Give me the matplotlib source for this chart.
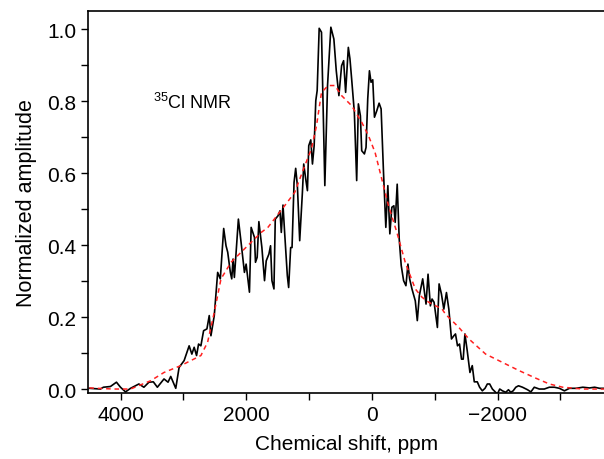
"""
35Cl NMR spectrum: measured amplitude (black) and fitted lineshape (red dashed).
Saves out.png
"""

import matplotlib
matplotlib.use('Agg')
import matplotlib.pyplot as plt
from matplotlib.ticker import MultipleLocator

plt.rcParams['font.family'] = ['Liberation Sans', 'DejaVu Sans']
plt.rcParams['mathtext.fontset'] = 'custom'
plt.rcParams['mathtext.rm'] = 'Liberation Sans'
plt.rcParams['mathtext.default'] = 'regular'

# ── Data ──────────────────────────────────────────────────────────────────────
shift_ppm = [
    4499, 4323, 4275, 4163, 4067, 4003, 3923, 3843, 3710, 3630,
    3550, 3480, 3416, 3310, 3246, 3203, 3123, 3070, 2990, 2910,
    2867, 2830, 2792, 2760, 2723, 2680, 2627, 2590, 2563, 2510,
    2456, 2414, 2360, 2323, 2296, 2254, 2232, 2211, 2190, 2126,
    2083, 2030, 2003, 1950, 1923, 1870, 1854, 1827, 1800, 1752,
    1710, 1683, 1640, 1614, 1592, 1560, 1539, 1496, 1464, 1443,
    1416, 1390, 1347, 1326, 1294, 1272, 1240, 1214, 1187, 1150,
    1107, 1086, 1054, 1027, 1006, 974, 947, 920, 894, 872,
    840, 803, 750, 707, 654, 606, 568, 526, 483, 451,
    419, 376, 350, 323, 280, 243, 216, 184, 163, 120,
    94, 67, 40, 14, -13, -40, -77, -114, -146, -184,
    -221, -253, -285, -317, -349, -370, -402, -434, -466, -504,
    -541, -573, -600, -637, -690, -722, -754, -808, -861, -893,
    -930, -957, -989, -1042, -1069, -1106, -1144, -1186, -1224, -1266,
    -1304, -1330, -1362, -1394, -1426, -1453, -1480, -1517, -1560, -1597,
    -1629, -1677, -1714, -1757, -1800, -1837, -1874, -1917, -1970, -1997,
    -2034, -2077, -2130, -2173, -2210, -2248, -2290, -2333, -2397, -2477,
    -2530, -2584, -2664, -2744, -2824, -2904, -2984, -3064, -3144, -3250,
    -3357, -3464, -3544, -3624, -3698, -3741,
]
amplitude = [
    0.002, 0.000, 0.005, 0.007, 0.019, 0.005, -0.008, 0.002, 0.014, 0.005,
    0.019, 0.020, 0.005, 0.028, 0.019, 0.035, 0.002, 0.060, 0.079, 0.120,
    0.097, 0.116, 0.093, 0.125, 0.120, 0.162, 0.167, 0.204, 0.148, 0.204,
    0.324, 0.306, 0.446, 0.398, 0.380, 0.324, 0.306, 0.361, 0.310, 0.472,
    0.407, 0.324, 0.347, 0.269, 0.449, 0.421, 0.352, 0.366, 0.465, 0.393,
    0.301, 0.356, 0.375, 0.398, 0.301, 0.278, 0.472, 0.481, 0.495, 0.435,
    0.511, 0.435, 0.315, 0.282, 0.393, 0.393, 0.574, 0.613, 0.565, 0.412,
    0.546, 0.625, 0.583, 0.551, 0.676, 0.692, 0.625, 0.676, 0.801, 0.829,
    1.002, 0.991, 0.565, 0.843, 1.005, 0.972, 0.884, 0.815, 0.898, 0.912,
    0.824, 0.949, 0.917, 0.861, 0.768, 0.579, 0.792, 0.759, 0.662, 0.653,
    0.671, 0.806, 0.884, 0.852, 0.859, 0.755, 0.773, 0.794, 0.778, 0.602,
    0.449, 0.565, 0.431, 0.505, 0.509, 0.463, 0.569, 0.417, 0.343, 0.301,
    0.287, 0.347, 0.306, 0.278, 0.245, 0.190, 0.259, 0.306, 0.236, 0.319,
    0.231, 0.250, 0.241, 0.171, 0.292, 0.264, 0.222, 0.268, 0.222, 0.139,
    0.148, 0.153, 0.120, 0.125, 0.083, 0.083, 0.153, 0.106, 0.046, 0.065,
    0.020, 0.020, 0.005, -0.005, 0.002, 0.014, 0.014, 0.000, -0.009, -0.014,
    0.000, -0.005, -0.009, -0.002, -0.009, -0.005, 0.005, 0.009, 0.005, -0.002,
    -0.008, 0.005, 0.000, 0.000, 0.005, 0.005, 0.002, -0.005, 0.002, 0.002,
    0.005, 0.003, 0.005, 0.002, 0.002, 0.002,
]

fit_ppm = [
    4499, 4115, 3843, 3523, 3310, 3043, 2723, 2616, 2510, 2403,
    2243, 2083, 1763, 1656, 1390, 1230, 1070, 963, 883, 803,
    696, 590, 483, 323, 163, 56, -50, -157, -264, -397,
    -530, -690, -797, -904, -1117, -1170, -1384, -1544, -1810, -2077,
    -2344, -2610, -2824, -3037, -3357, -3693,
]
fit_amp = [
    0.003, 0.000, 0.000, 0.023, 0.046, 0.065, 0.093, 0.130, 0.213, 0.306,
    0.352, 0.380, 0.435, 0.449, 0.509, 0.546, 0.620, 0.667, 0.731, 0.824,
    0.843, 0.843, 0.815, 0.787, 0.741, 0.704, 0.657, 0.583, 0.509, 0.435,
    0.352, 0.278, 0.255, 0.241, 0.222, 0.208, 0.171, 0.139, 0.097, 0.074,
    0.051, 0.030, 0.014, 0.005, 0.000, 0.000,
]

x_major = [4000, 2000, 0, -2000]


# ── Plot ──────────────────────────────────────────────────────────────────────
fig = plt.figure(figsize=(6.04, 4.60), dpi=100)
ax = fig.add_axes([0.1457, 0.1435, 0.857, 0.8304])

ax.plot(shift_ppm, amplitude, color='black', lw=1.2, zorder=3)
ax.plot(fit_ppm, fit_amp, color='#ff2020', lw=1.1, dashes=(3, 2.5), zorder=4)

ax.set_xlim(4520, -3720)
ax.set_ylim(-0.011, 1.05)

ax.set_xticks(x_major)
ax.xaxis.set_minor_locator(MultipleLocator(1000))
ax.yaxis.set_major_locator(MultipleLocator(0.2))
ax.yaxis.set_minor_locator(MultipleLocator(0.1))
ax.yaxis.set_major_formatter(plt.FormatStrFormatter('%.1f'))

ax.tick_params(which='both', direction='out', width=1.0, labelsize=15,
               top=False, right=False)
ax.tick_params(which='major', length=5)
ax.tick_params(which='minor', length=5)
for s in ax.spines.values():
    s.set_linewidth(1.2)

ax.set_xlabel('Chemical shift, ppm', fontsize=15, labelpad=7)
ax.set_ylabel('Normalized amplitude', fontsize=15.5, labelpad=7)

ax.text(3480, 0.797, r'$^{35}$Cl NMR', fontsize=13, va='center', ha='left')

fig.savefig('out.png', dpi=100)
